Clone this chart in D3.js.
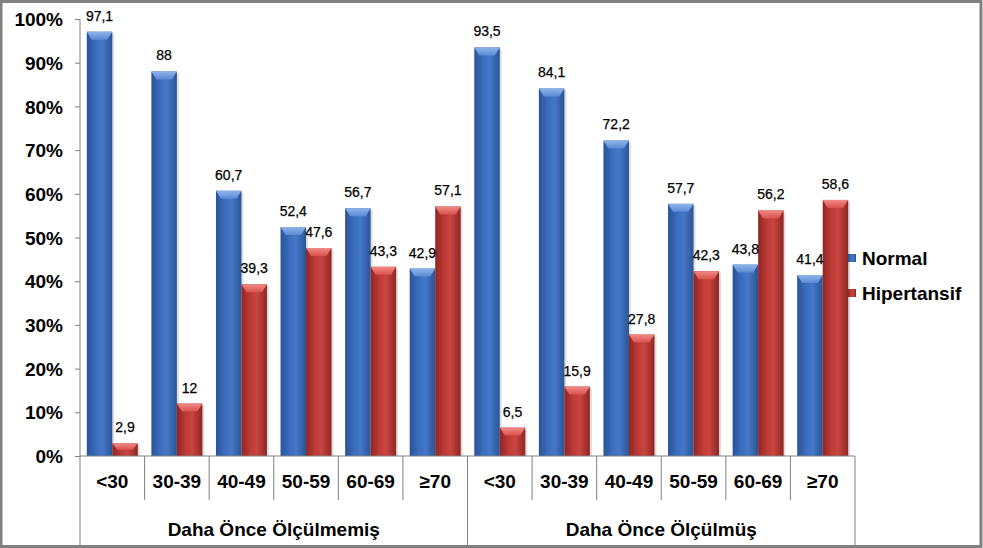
<!DOCTYPE html>
<html><head><meta charset="utf-8">
<script src="https://cdn.jsdelivr.net/npm/d3@7"></script>
<style>
html,body{margin:0;padding:0;background:#fff;}
svg{display:block;font-family:Arial,"Liberation Sans",sans-serif;}
</style></head>
<body>
<svg id="c" width="983" height="548"></svg>
<script>
const ageGroups = ["<30","30-39","40-49","50-59","60-69","≥70"];
const groupNames = ["Daha Önce Ölçülmemiş","Daha Önce Ölçülmüş"];
const seriesNames = ["Normal","Hipertansif"];
const normalValues = [97.1,88,60.7,52.4,56.7,42.9, 93.5,84.1,72.2,57.7,43.8,41.4];
const hipertansifValues = [2.9,12,39.3,47.6,43.3,57.1, 6.5,15.9,27.8,42.3,56.2,58.6];
const labelNormal = ["97,1","88","60,7","52,4","56,7","42,9","93,5","84,1","72,2","57,7","43,8","41,4"];
const labelHiper = ["2,9","12","39,3","47,6","43,3","57,1","6,5","15,9","27,8","42,3","56,2","58,6"];
const yTicks = [0,10,20,30,40,50,60,70,80,90,100];

(function(){
const svg = d3.select("#c");
const W=983,H=548;
const pLeft=80,pRight=855,pTop=19,pBase=456;
const FS=19;

const defs = svg.append("defs");
function grad(id, dark, mid, light){
  const g = defs.append("linearGradient").attr("id",id).attr("x1","0").attr("x2","1").attr("y1","0").attr("y2","0");
  g.append("stop").attr("offset","0%").attr("stop-color",dark);
  g.append("stop").attr("offset","35%").attr("stop-color",mid);
  g.append("stop").attr("offset","60%").attr("stop-color",light);
  g.append("stop").attr("offset","100%").attr("stop-color",dark);
}
grad("gBlue","#2a5496","#3a6dbd","#4579c8");
grad("gRed","#8f2623","#be3a36","#c94541");
function topGrad(id,c1,c2){
  const g = defs.append("linearGradient").attr("id",id).attr("x1","0").attr("x2","0").attr("y1","0").attr("y2","1");
  g.append("stop").attr("offset","0%").attr("stop-color",c1);
  g.append("stop").attr("offset","100%").attr("stop-color",c2);
}
topGrad("tBlue","#8fb4ea","#5b8ad4");
topGrad("tRed","#f08a86","#d9524d");

svg.append("rect").attr("x",1).attr("y",1.5).attr("width",W-3).attr("height",H-3)
  .attr("fill","#fff").attr("stroke","#808080").attr("stroke-width",3);

const cats = d3.range(12);
const x = d3.scaleBand().domain(cats).range([pLeft,pRight]).padding(0);
const xs = d3.scaleBand().domain(seriesNames).range([0,x.bandwidth()]).paddingInner(0).paddingOuter(0.266);
const y = d3.scaleLinear().domain([0,100]).range([pBase,pTop]);

const data = [];
cats.forEach(i=>{
  data.push({i, s:"Normal", v:normalValues[i], lab:labelNormal[i]});
  data.push({i, s:"Hipertansif", v:hipertansifValues[i], lab:labelHiper[i]});
});
const bw = xs.bandwidth();
const bars = svg.append("g");
data.forEach(d=>{
  const x0 = x(d.i)+xs(d.s), y0 = y(d.v), h = pBase - y0;
  const blue = d.s==="Normal";
  bars.append("rect").attr("x",x0+2).attr("y",y0+2).attr("width",bw).attr("height",h-2)
    .attr("fill","#000").attr("opacity",0.12);
  bars.append("rect").attr("x",x0).attr("y",y0).attr("width",bw).attr("height",h)
    .attr("fill",blue?"url(#gBlue)":"url(#gRed)");
  const bh = Math.min(8,h/2);
  bars.append("path")
    .attr("d",`M${x0},${y0}L${x0+bw},${y0}L${x0+bw-5},${y0+bh}L${x0+5},${y0+bh}Z`)
    .attr("fill",blue?"url(#tBlue)":"url(#tRed)");
});
data.forEach(d=>{
  const x0 = x(d.i)+xs(d.s), y0 = y(d.v);
  bars.append("text").attr("x",x0+bw/2).attr("y",y0-11).attr("text-anchor","middle")
    .attr("font-size",14).attr("font-weight","normal").attr("stroke","#000").attr("stroke-width",0.25)
    .attr("fill","#000").text(d.lab);
});

const yAxis = d3.axisLeft(y).tickValues(yTicks).tickFormat(d=>d+"%").tickSize(5).tickSizeOuter(0);
const ya = svg.append("g").attr("transform",`translate(${pLeft},0)`).call(yAxis);
ya.select(".domain").remove();
ya.selectAll(".tick line").attr("stroke","#808080");
ya.selectAll(".tick text").attr("x",-17).attr("font-size",FS).attr("font-weight","bold")
  .attr("font-family","Arial,'Liberation Sans',sans-serif").attr("fill","#000").attr("dy","0.35em");
svg.append("line").attr("x1",pLeft).attr("x2",pLeft).attr("y1",pTop).attr("y2",H-2).attr("stroke","#808080");

svg.append("line").attr("x1",pLeft).attr("x2",pRight).attr("y1",pBase).attr("y2",pBase).attr("stroke","#808080");
const xAxis = d3.axisBottom(x).tickFormat(i=>ageGroups[i%6]).tickSize(0);
const xa = svg.append("g").attr("transform",`translate(0,${pBase})`).call(xAxis);
xa.select(".domain").remove();
xa.selectAll(".tick text").attr("y",25).attr("dy","0.35em").attr("font-size",FS).attr("font-weight","bold")
  .attr("font-family","Arial,'Liberation Sans',sans-serif").attr("fill","#000");
cats.forEach(i=>{
  const xx = x(i)+x.bandwidth();
  const full = (i===5||i===11);
  svg.append("line").attr("x1",xx).attr("x2",xx).attr("y1",pBase).attr("y2",full?H-2:500).attr("stroke","#808080");
});
groupNames.forEach((g,k)=>{
  const x0 = x(k*6), x1 = x(k*6+5)+x.bandwidth();
  svg.append("text").attr("x",(x0+x1)/2).attr("y",529).attr("dy","0.35em").attr("text-anchor","middle")
    .attr("font-size",FS).attr("font-weight","bold").attr("fill","#000").text(g);
});

const leg = svg.append("g");
seriesNames.forEach((s,k)=>{
  const yy = 258 + k*35;
  leg.append("rect").attr("x",848).attr("y",yy-4).attr("width",8).attr("height",8)
    .attr("fill",k===0?"url(#gBlue)":"url(#gRed)");
  leg.append("text").attr("x",862).attr("y",yy).attr("dy","0.35em")
    .attr("font-size",FS).attr("font-weight","bold").attr("fill","#000").text(s);
});
})();
</script>
</body></html>
